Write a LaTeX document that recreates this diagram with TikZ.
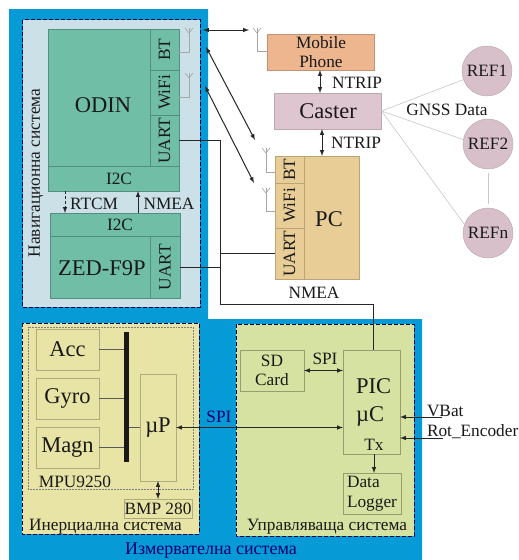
\documentclass[tikz,border=0pt]{standalone}
\usepackage{fontspec}
\setmainfont{Liberation Serif}
\usepackage{tikz}
\definecolor{outerblue}{RGB}{6,154,214}
\definecolor{navfill}{RGB}{204,224,232}
\definecolor{odingreen}{RGB}{112,190,166}
\definecolor{phonefill}{RGB}{238,182,142}
\definecolor{casterfill}{RGB}{222,198,208}
\definecolor{pcfill}{RGB}{232,206,150}
\definecolor{reffill}{RGB}{216,192,202}
\definecolor{imufill}{RGB}{232,228,166}
\definecolor{ctrlfill}{RGB}{214,226,162}
\newcommand{\bigtxt}{\fontsize{22.5}{28}\selectfont}
\newcommand{\midtxt}{\fontsize{17.3}{19.5}\selectfont}
\newcommand{\widetxt}{\fontsize{18}{20}\selectfont}
\tikzset{
  every node/.style={font=\midtxt,text=black!90,inner sep=0pt,outer sep=0pt},
  >=latex,
  sysbox/.style={draw=black!75!blue,thick,dash pattern=on 4pt off 2pt},
  odinbox/.style={draw=odingreen!75!black,fill=odingreen},
  phonebox/.style={draw=phonefill!80!black,fill=phonefill},
  casterbox/.style={draw=casterfill!85!black,fill=casterfill},
  pcbox/.style={draw=pcfill!80!black,fill=pcfill},
  refnode/.style={circle,draw=reffill!85!black,fill=reffill,minimum size=50pt},
  imubox/.style={draw=imufill!75!black,fill=imufill},
  ctrlbox/.style={draw=ctrlfill!70!black,fill=ctrlfill},
  wire/.style={draw=black!85,line width=1pt},
  link/.style={wire,<->},
  aerial/.style={draw=black!35,line width=0.6pt},
  refline/.style={draw=black!22,line width=0.6pt},
}
\begin{document}
\begin{tikzpicture}[x=1pt,y=-1pt]
\useasboundingbox (0,0) rectangle (519,560);

% blue carrier
\fill[outerblue] (9,9)--(208,9)--(208,319)--(422,319)--(422,560)--(9,560)--cycle;
\draw[sysbox,fill=navfill] (22.5,19.5) rectangle (200,307);
\draw[sysbox,fill=imufill] (22,323) rectangle (199,534);
\draw[sysbox,fill=ctrlfill] (236,324) rectangle (414,536);
\draw[black!50,densely dotted,line width=0.5pt] (28,327) rectangle (193,489);

% system labels
\node[rotate=90] (navlabel) at (36,173) {Навигационна система};
\node[anchor=base] (imulabel) at (105.5,530.5) {Инерциална система};
\node[anchor=base] (ctrllabel) at (327,530.5) {Управляваща система};
\node[font=\widetxt,text=blue!45!black] (measlabel) at (211,551) {Измервателна система};

% ODIN
\node[odinbox,minimum width=131pt,minimum height=162pt] (odin) at (113.5,110) {};
\node[font=\bigtxt] (odintxt) at (103,105) {ODIN};
\node[odinbox,minimum width=131pt,minimum height=25pt] (odini2c) at (113.5,178.5) {\hspace{11pt}I2C};
\node[odinbox,rotate=90,minimum width=41pt,minimum height=29pt] (odinbt) at (164.5,49.5) {BT};
\node[odinbox,rotate=90,minimum width=45pt,minimum height=29pt] (odinwifi) at (164.5,92.5) {WiFi};
\node[odinbox,rotate=90,minimum width=51pt,minimum height=29pt] (odinuart) at (164.5,140.5) {UART};

% ZED-F9P
\node[odinbox,minimum width=130pt,minimum height=85pt] (zed) at (115,255.5) {};
\node[font=\bigtxt] (zedtxt) at (102,268) {ZED-F9P};
\node[odinbox,minimum width=130pt,minimum height=23pt] (zedi2c) at (115,224.5) {\hspace{10pt}I2C};
\node[odinbox,rotate=90,minimum width=62pt,minimum height=30pt] (zeduart) at (165,267) {UART};

% RTCM and NMEA between the two
\draw[wire,->,densely dashed] (odini2c.south -| 65,0) -- (zedi2c.north -| 65,0);
\draw[wire,->] (zedi2c.north -| 138,0) -- (odini2c.south -| 138,0);
\node (rtcmlabel) at (94,204) {RTCM};
\node (nmealabel) at (169,204) {NMEA};

% phone, caster, PC
\node[phonebox,minimum width=107pt,minimum height=36pt,align=center] (phone) at (321,52) {Mobile\\Phone};
\node[casterbox,minimum width=107pt,minimum height=36pt,font=\bigtxt] (caster) at (328,111) {Caster};
\node[pcbox,minimum width=84pt,minimum height=123pt] (pc) at (317,217.5) {};
\node[font=\bigtxt] (pctxt) at (329,219) {PC};
\node[pcbox,rotate=90,minimum width=27pt,minimum height=29pt] (pcbt) at (289.5,169.5) {BT};
\node[pcbox,rotate=90,minimum width=45pt,minimum height=29pt] (pcwifi) at (289.5,205.5) {WiFi};
\node[pcbox,rotate=90,minimum width=51pt,minimum height=29pt] (pcuart) at (289.5,253.5) {UART};
\draw[link] (phone.south -| 320,0) -- (caster.north -| 320,0);
\draw[link] (caster.south -| 322,0) -- (pc.north -| 322,0);
\node (ntripa) at (357,83) {NTRIP};
\node (ntripb) at (356,143) {NTRIP};
\node (nmeatop) at (314,293) {NMEA};

% antennas
\foreach \part/\antx/\anty/\stub in {odinbt.south/189/33/52,odinwifi.south/189/78/97,phone.west/257/33/51,pcbt.north/266/153/172,pcwifi.north/266/193/211}{
  \draw[aerial] (\part |- 0,\stub) -| (\antx,\anty);
  \draw[aerial] (\antx-4,\anty-5) -- (\antx,\anty) -- (\antx+4,\anty-5);
  \draw[aerial] (\antx,\anty) -- (\antx,\anty-5);
}

% radio links
\coordinate (nava) at (203,30);
\coordinate (navb) at (206,47);
\coordinate (navc) at (205,86);
\coordinate (phoneant) at (249,30);
\coordinate (pcbtant) at (255,140);
\coordinate (pcwifiant) at (254,183);
\draw[link] (nava) -- (phoneant);
\draw[link] (navb) -- (pcbtant);
\draw[link] (navc) -- (pcwifiant);

% reference stations
\node[refnode] (refa) at (487,71) {REF1};
\node[refnode] (refb) at (488,144) {REF2};
\node[refnode] (refn) at (488,233) {REFn};
\node (gnsslabel) at (447,110) {GNSS Data};
\draw[refline] (caster.east) -- (refa.200);
\draw[refline] (caster.east) -- (refb.170);
\draw[refline] (caster.east) -- (refn.160);
\draw[refline,shorten >=4pt,shorten <=4pt] (refb) -- (refn);

% inertial system
\node[imubox,minimum width=63pt,minimum height=41pt,font=\bigtxt] (acc) at (67.5,349.5) {Acc};
\node[imubox,minimum width=63pt,minimum height=41pt,font=\bigtxt] (gyro) at (67.5,398.5) {Gyro};
\node[imubox,minimum width=63pt,minimum height=41pt,font=\bigtxt] (magn) at (67.5,447.5) {Magn};
\node[fill=black!90,minimum width=5pt,minimum height=130pt] (bus) at (126.5,397) {};
\node[imubox,minimum width=36pt,minimum height=107pt,font=\bigtxt] (up) at (158,427.5) {µP};
\node[imubox,minimum width=68pt,minimum height=19pt] (bmp) at (158,508.5) {BMP 280};
\node (mpulabel) at (75,482) {MPU9250};
\foreach \sensor in {acc,gyro,magn}
  \draw[line width=1pt,draw=black!65] (\sensor.east) -- (bus.west |- \sensor.east);
\draw[line width=1pt,draw=black!65] (bus.east |- up.west) -- (up.west);
\draw[link] (up.south) -- (bmp.north);

% control system
\node[ctrlbox,minimum width=64pt,minimum height=41pt,align=center] (sd) at (272,370.5) {SD\\Card};
\node[ctrlbox,minimum width=57pt,minimum height=104pt] (pic) at (371.5,402) {};
\node[font=\bigtxt,align=left] (pictxt) at (373.7,402.5) {PIC\\µC};
\node (txlabel) at (374,445) {Tx};
\node[ctrlbox,minimum width=58pt,minimum height=41pt,align=left] (logger) at (372,493.5) {Data\\Logger};
\node (spisd) at (325,359) {SPI};
\node[text=blue!45!black] (spiup) at (219,417) {SPI};
\draw[link] (sd.east) -- (pic.west |- sd.east);
\draw[link] (up.east) -- (pic.west |- up.east);
\draw[wire,->] (pic.south -| txlabel) -- (logger.north -| txlabel);

% VBat and encoder inputs
\node[anchor=base west] (vbat) at (427,416) {VBat};
\node[anchor=base west] (rotenc) at (427,436) {Rot\_Encoder};
\coordinate (vbatend) at (442,417);
\coordinate (rotend) at (443,438);
\draw[wire,->] (vbatend) -- (pic.east |- vbatend);
\draw[wire,->] (rotend) -- (pic.east |- rotend);

% UART wiring
\coordinate (uartbus) at (220,253);
\coordinate (uartlow) at (220,304);
\draw[wire] (odinuart.south) -| (uartlow) -| (pic.north -| 373,0);
\draw[wire] (zeduart.south) -- (uartbus |- zeduart.south);
\draw[wire] (pcuart.north) -- (uartbus |- pcuart.north);
\end{tikzpicture}
\end{document}
